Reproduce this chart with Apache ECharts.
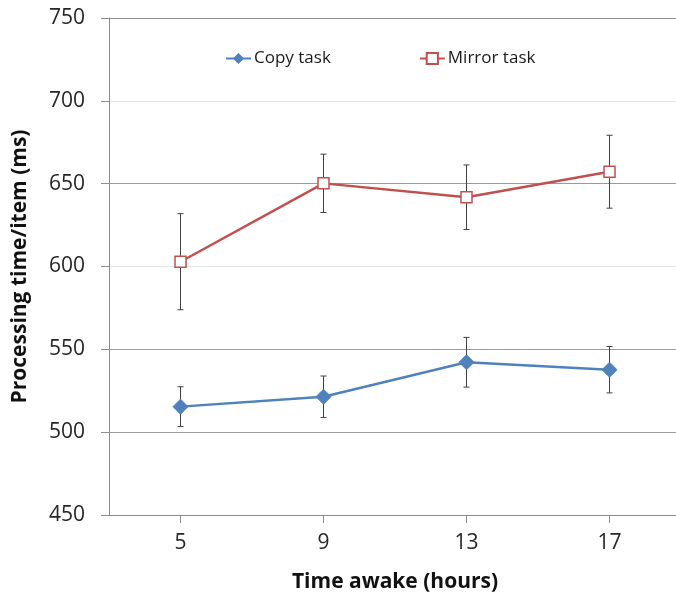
<!DOCTYPE html>
<html>
<head>
<meta charset="utf-8">
<script src="https://cdn.jsdelivr.net/npm/echarts@6/dist/echarts.min.js"></script>
<style>html,body{margin:0;padding:0;background:#fff;}#c{width:676px;height:597px;}</style>
</head>
<body>
<div id="c"></div>
<script>
const categories = ['5', '9', '13', '17'];
const copyValues = [515.4, 521.4, 542.2, 537.7];
const copyErrors = [12, 12.5, 15, 14];
const mirrorValues = [602.9, 650.2, 641.8, 657.2];
const mirrorErrors = [29, 17.6, 19.5, 22];
const yTicks = [450, 500, 550, 600, 650, 700, 750];

const FONT = '"Open Sans", sans-serif';

function errData(vals, errs) {
  return vals.map((v, i) => [i, v - errs[i], v + errs[i]]);
}
function renderErr(params, api) {
  const x = api.value(0);
  const lo = api.coord([x, api.value(1)]);
  const hi = api.coord([x, api.value(2)]);
  const cap = 3;
  const style = { stroke: '#404040', lineWidth: 1 };
  return {
    type: 'group',
    children: [
      { type: 'line', shape: { x1: lo[0], y1: lo[1], x2: hi[0], y2: hi[1] }, style },
      { type: 'line', shape: { x1: lo[0] - cap, y1: lo[1], x2: lo[0] + cap, y2: lo[1] }, style },
      { type: 'line', shape: { x1: hi[0] - cap, y1: hi[1], x2: hi[0] + cap, y2: hi[1] }, style }
    ]
  };
}

const chart = echarts.init(document.getElementById('c'), null, { renderer: 'canvas' });
chart.setOption({
  animation: false,
  backgroundColor: '#fff',
  grid: { left: 109, right: -5, top: 18, bottom: 82, containLabel: false, outerBoundsMode: 'none' },
  legend: {
    left: 225, top: 50, padding: 0,
    itemGap: 88, itemWidth: 25, itemHeight: 14,
    textStyle: { fontFamily: FONT, fontSize: 17, color: '#1a1a1a', padding: [0, 0, 0, -2] },
    data: ['Copy task', 'Mirror task']
  },
  xAxis: {
    type: 'category',
    data: categories,
    boundaryGap: true,
    name: 'Time awake (hours)',
    nameLocation: 'middle',
    nameGap: 57,
    nameTextStyle: { fontFamily: FONT, fontSize: 21, fontWeight: 'bold', color: '#111' },
    axisLine: { show: true, lineStyle: { color: '#8c8c8c', width: 1 } },
    axisTick: { show: true, alignWithLabel: true, length: 8, lineStyle: { color: '#8c8c8c' } },
    axisLabel: { fontFamily: FONT, fontSize: 21, color: '#262626', margin: 18 },
    splitLine: { show: false }
  },
  yAxis: {
    type: 'value',
    min: yTicks[0], max: yTicks[yTicks.length - 1], interval: 50,
    name: 'Processing time/item (ms)',
    nameLocation: 'middle',
    nameGap: 78,
    nameRotate: 90,
    nameTextStyle: { fontFamily: FONT, fontSize: 21, fontWeight: 'bold', color: '#111' },
    axisLine: { show: true, lineStyle: { color: '#8c8c8c', width: 1 } },
    axisTick: { show: true, length: 8, lineStyle: { color: '#8c8c8c' } },
    axisLabel: { fontFamily: FONT, fontSize: 21, color: '#262626', margin: 24 },
    splitLine: { show: true, lineStyle: { width: 1, color: ['#8c8c8c', '#9a9a9a', '#9a9a9a', '#e3e3e3', '#9a9a9a', '#e3e3e3', '#8c8c8c'] } }
  },
  series: [
    {
      type: 'custom', name: 'copyErr', z: 1, silent: true,
      renderItem: renderErr, data: errData(copyValues, copyErrors)
    },
    {
      type: 'custom', name: 'mirrorErr', z: 1, silent: true,
      renderItem: renderErr, data: errData(mirrorValues, mirrorErrors)
    },
    {
      name: 'Copy task', type: 'line', z: 3,
      data: copyValues,
      symbol: 'diamond', symbolSize: 15,
      lineStyle: { color: '#4F81BD', width: 2.4 },
      itemStyle: { color: '#4F81BD', borderColor: '#4F81BD' }
    },
    {
      name: 'Mirror task', type: 'line', z: 3,
      data: mirrorValues,
      symbol: 'rect', symbolSize: 11,
      lineStyle: { color: '#C0504D', width: 2.4 },
      itemStyle: { color: '#ffffff', borderColor: '#C0504D', borderWidth: 1.5 }
    }
  ]
});
</script>
</body>
</html>
